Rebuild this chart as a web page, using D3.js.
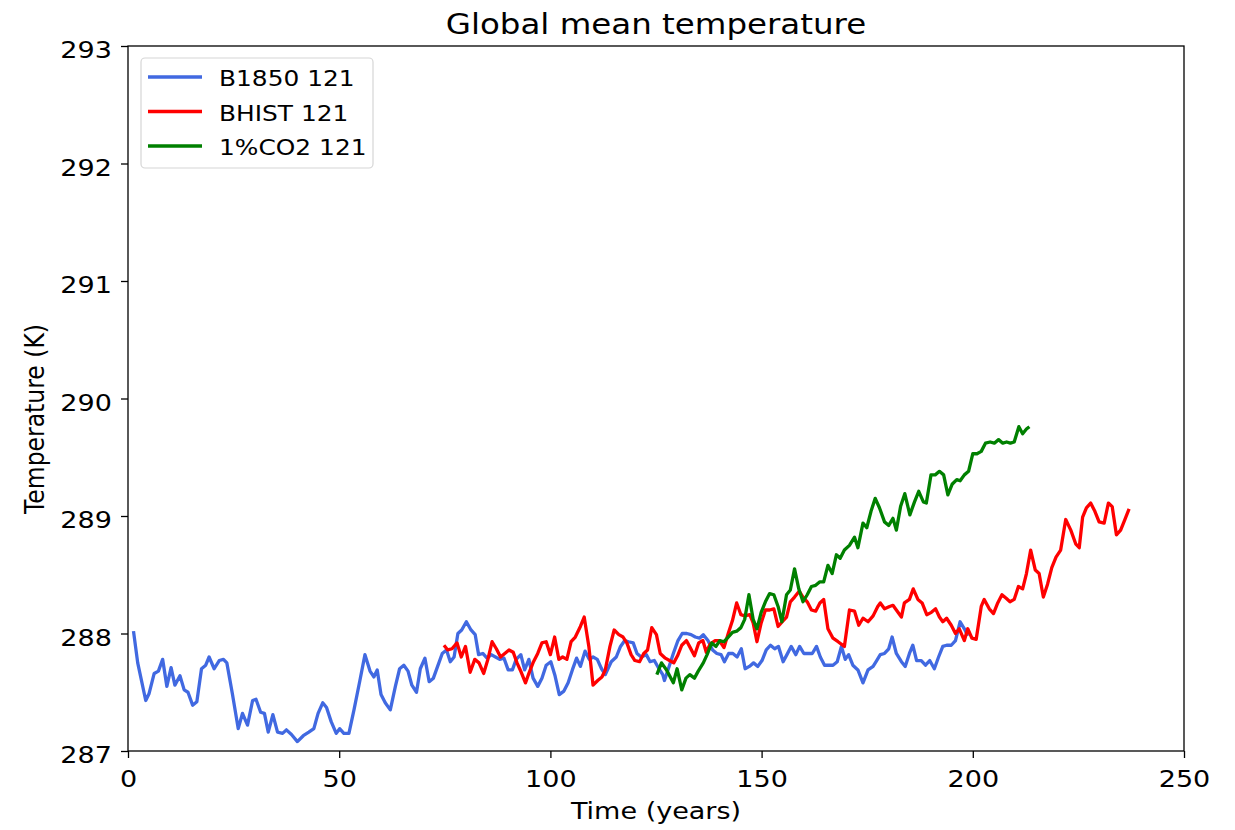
<!DOCTYPE html>
<html>
<head>
<meta charset="utf-8">
<script src="https://cdn.jsdelivr.net/npm/d3@7"></script>
<style>
  html, body { margin: 0; padding: 0; background: #fff; }
  text { font-family: "DejaVu Sans", sans-serif; fill: #000; }
</style>
</head>
<body>
<svg id="chart" width="1235" height="830"></svg>
<script>
// ---------------- DATA ----------------
const xTicks = [0, 50, 100, 150, 200, 250];
const yTicks = [287, 288, 289, 290, 291, 292, 293];
const seriesNames = ["B1850 121", "BHIST 121", "1%CO2 121"];

const b1850Years = [1.3,2.3,4.2,5.0,6.2,7.2,8.2,9.2,10.2,11.1,12.3,13.3,14.2,15.3,16.3,17.4,18.4,19.2,20.4,21.6,22.6,23.4,24.7,26.1,27.1,28.3,29.5,30.3,31.4,32.3,33.2,34.3,35.4,36.6,37.5,38.7,40.1,41.5,42.8,44.0,45.0,46.1,47.0,48.1,49.3,50.1,51.1,52.3,53.5,54.9,56.1,57.3,58.2,59.0,59.9,60.9,62.1,63.3,64.3,65.3,66.3,67.2,68.3,69.2,70.3,71.3,72.3,73.3,74.4,75.4,76.3,77.2,78.1,79.0,80.1,81.2,82.2,83.0,84,85,86,87,88,89,90,91,91.9,93,93.9,94.9,95.9,97,98,99,100.1,101.1,102.1,103.2,104.2,105.2,106.2,107.1,108.2,109.2,110.1,111.1,112.1,113.0,114.4,115.6,116.6,117.6,118.5,119.6,120.5,121.5,122.7,123.6,124.6,125.7,126.6,127.0,128.2,129.1,130.2,131.2,132.3,133.3,134.3,135.3,136.2,137.3,138.4,139.4,140.4,141.2,142.2,143.2,144.2,145.2,146.1,147.1,148.1,149.1,150.1,151.1,152.1,153.1,154.0,155.1,156.0,157.0,158.1,159.0,160.0,161.0,162.0,163.0,163.9,164.9,165.9,166.9,167.9,168.9,169.8,170.6,171.6,172.8,174.0,175.2,176.4,177.1,178.1,179.1,180.1,180.9,181.9,183.1,184.0,185.0,185.8,186.7,187.8,188.8,189.8,190.9,191.9,192.9,193.8,194.9,195.9,197.0,198.0,198.8];
const b1850Temp = [288.02,287.75,287.43,287.49,287.66,287.68,287.78,287.55,287.71,287.56,287.64,287.52,287.50,287.39,287.42,287.70,287.73,287.80,287.70,287.77,287.78,287.75,287.49,287.19,287.32,287.22,287.43,287.44,287.33,287.32,287.16,287.31,287.16,287.15,287.18,287.14,287.08,287.13,287.16,287.19,287.32,287.41,287.37,287.25,287.15,287.19,287.15,287.15,287.35,287.60,287.82,287.68,287.63,287.69,287.48,287.41,287.35,287.55,287.70,287.73,287.68,287.56,287.50,287.70,287.79,287.59,287.62,287.72,287.83,287.86,287.76,287.80,288.00,288.03,288.10,288.03,287.99,287.82,287.83,287.79,287.82,287.80,287.78,287.79,287.69,287.69,287.78,287.82,287.69,287.78,287.62,287.55,287.62,287.73,287.76,287.64,287.48,287.51,287.58,287.69,287.79,287.72,287.85,287.78,287.80,287.78,287.70,287.65,287.76,287.80,287.89,287.94,287.93,287.92,287.83,287.80,287.82,287.76,287.77,287.70,287.65,287.60,287.73,287.83,287.94,288.00,288.00,287.99,287.97,287.96,287.99,287.94,287.86,287.83,287.82,287.76,287.83,287.83,287.80,287.87,287.70,287.72,287.75,287.72,287.77,287.86,287.90,287.87,287.89,287.76,287.82,287.89,287.82,287.89,287.83,287.83,287.83,287.89,287.80,287.73,287.73,287.73,287.76,287.89,287.78,287.82,287.73,287.69,287.58,287.69,287.72,287.76,287.82,287.83,287.87,287.97,287.83,287.76,287.72,287.83,287.90,287.77,287.77,287.73,287.77,287.70,287.80,287.89,287.90,287.90,287.94,288.10,288.04,287.98];

const bhistYears = [74.8,75.7,76.7,77.9,78.9,79.9,81.0,82.1,83.1,84.2,85.2,86.2,87.2,88.2,89.2,90.2,91.2,92.1,93.1,94.1,95.0,96.0,97.0,98.0,99.0,100.0,101.0,102.0,102.9,103.9,104.9,105.9,107.1,108.0,109.1,110.1,111.2,112.2,113.0,114.1,115.1,116.2,117.2,118.1,119.1,120.0,121.1,122.1,123.0,124.0,125.1,126.0,127.2,128.2,129.2,130.1,131.1,132.2,133.1,134.1,135.1,136.1,136.9,137.8,139.0,140.0,141.1,142.1,143.1,144.1,145.1,146.0,147.2,148.0,148.9,149.9,150.9,151.9,152.9,153.9,154.9,155.9,156.8,157.8,158.9,159.8,160.8,161.8,162.8,163.8,164.7,165.7,166.9,168.1,169.6,170.8,172.0,173.0,174.0,175.2,176.4,177.5,178.1,179.1,180.3,181.1,181.9,183.1,183.8,185.0,185.9,187.0,188.0,189.1,190.2,191.2,192.1,192.9,193.8,194.9,195.9,196.8,198.0,198.8,199.8,200.8,202.0,202.7,203.9,204.9,205.9,206.9,207.9,208.8,209.8,210.8,211.8,212.7,213.7,214.8,215.7,216.7,217.7,218.7,219.7,220.8,222.0,223.2,224.4,225.2,226.0,226.9,227.9,228.9,229.9,231.1,232.1,233.0,234.0,235.0,236.0,237.0];
const bhistTemp = [287.90,287.86,287.87,287.92,287.80,287.89,287.67,287.78,287.75,287.66,287.78,287.93,287.87,287.80,287.83,287.86,287.84,287.75,287.67,287.58,287.67,287.76,287.83,287.92,287.93,287.82,287.97,287.78,287.80,287.78,287.93,287.97,288.06,288.14,287.89,287.56,287.60,287.63,287.69,287.89,288.03,287.99,287.97,287.92,287.82,287.77,287.76,287.83,287.86,288.05,287.99,287.83,287.79,287.77,287.75,287.81,287.90,287.94,287.88,287.81,287.92,287.94,287.84,287.91,287.94,287.94,287.88,288.00,288.11,288.26,288.16,288.15,288.16,288.09,287.93,288.09,288.20,288.20,288.21,288.06,288.10,288.14,288.27,288.31,288.36,288.31,288.27,288.20,288.19,288.26,288.29,288.04,287.96,287.93,287.89,288.20,288.19,288.07,288.13,288.10,288.15,288.23,288.26,288.21,288.23,288.24,288.20,288.14,288.26,288.29,288.38,288.29,288.26,288.16,288.18,288.21,288.14,288.10,288.13,288.07,288.00,288.04,287.94,288.04,287.96,287.95,288.23,288.29,288.21,288.17,288.26,288.33,288.30,288.27,288.29,288.40,288.38,288.51,288.71,288.54,288.51,288.31,288.42,288.56,288.65,288.71,288.97,288.88,288.76,288.73,288.99,289.07,289.11,289.04,288.95,288.94,289.11,289.08,288.84,288.88,288.97,289.06];

const co2Years = [125.2,126.3,127.5,129.1,130.0,131.1,132.1,133.0,134.1,135.0,136.2,137.1,138.2,139.2,140.1,141.1,142.1,143.1,144.1,145.1,146.0,147.0,148.0,148.9,149.9,150.9,151.9,152.9,153.9,154.8,155.9,156.8,157.8,158.8,159.8,160.8,161.8,162.8,163.8,164.7,165.7,166.7,167.7,168.6,169.6,170.8,172.0,172.8,174.0,174.9,175.9,176.9,177.9,179.1,180.1,181.1,181.9,182.9,183.9,185.1,186.2,187.2,188.3,189.0,190.1,191.1,192.1,193.1,194.1,195.1,196.2,197.0,198.0,199.0,200.0,201.0,202.0,203.0,204.1,205.1,206.1,207.1,208.0,208.9,209.8,210.9,211.8,212.7,213.4];
const co2Temp = [287.65,287.75,287.69,287.58,287.70,287.52,287.62,287.65,287.62,287.68,287.75,287.82,287.92,287.89,287.94,287.93,287.97,288.01,288.02,288.05,288.12,288.33,288.12,288.04,288.18,288.27,288.34,288.33,288.23,288.10,288.33,288.37,288.55,288.38,288.27,288.33,288.40,288.41,288.44,288.44,288.58,288.51,288.67,288.64,288.71,288.75,288.82,288.73,288.94,288.90,289.04,289.15,289.07,288.95,288.92,288.98,288.88,289.08,289.19,289.01,289.12,289.21,289.12,289.11,289.35,289.35,289.38,289.35,289.18,289.27,289.31,289.30,289.35,289.38,289.53,289.53,289.55,289.62,289.63,289.62,289.65,289.62,289.63,289.62,289.63,289.76,289.70,289.74,289.76];

const seriesColors = ["#4169E1", "#FF0000", "#008000"];

// ---------------- LAYOUT ----------------
const svg = d3.select("#chart");
const M = { left: 128, right: 1184, top: 46, bottom: 751 };
const SX = 1.15; // horizontal stretch of the reference image text

const x = d3.scaleLinear().domain([0, 250]).range([M.left, M.right]);
const y = d3.scaleLinear().domain([287, 293]).range([M.bottom, M.top]);

const series = [
  { name: seriesNames[0], years: b1850Years, temps: b1850Temp, color: seriesColors[0] },
  { name: seriesNames[1], years: bhistYears, temps: bhistTemp, color: seriesColors[1] },
  { name: seriesNames[2], years: co2Years, temps: co2Temp, color: seriesColors[2] }
];

const line = d3.line().x(d => x(d[0])).y(d => y(d[1]));

svg.append("defs").append("clipPath").attr("id", "clip")
  .append("rect").attr("x", M.left).attr("y", M.top)
  .attr("width", M.right - M.left).attr("height", M.bottom - M.top);

const plot = svg.append("g").attr("clip-path", "url(#clip)");
series.forEach(s => {
  const pts = s.years.map((yr, i) => [yr, s.temps[i]]);
  plot.append("path").datum(pts)
    .attr("d", line)
    .attr("fill", "none")
    .attr("stroke", s.color)
    .attr("stroke-width", 3.3)
    .attr("stroke-linejoin", "round")
    .attr("stroke-linecap", "butt");
});

// Axes
const xAxis = svg.append("g").attr("transform", `translate(0,${M.bottom})`)
  .call(d3.axisBottom(x).tickValues(xTicks).tickFormat(d3.format("d")).tickSize(7).tickSizeOuter(0));
xAxis.select(".domain").remove();
xAxis.selectAll("line").attr("stroke", "#000").attr("stroke-width", 1.3);
xAxis.selectAll("text")
  .attr("y", 36).attr("dy", 0)
  .attr("font-size", 23.5)
  .attr("font-family", "DejaVu Sans")
  .attr("fill", "#000")
  .attr("transform", `scale(${SX},1)`);

const yAxis = svg.append("g").attr("transform", `translate(${M.left},0)`)
  .call(d3.axisLeft(y).tickValues(yTicks).tickFormat(d3.format("d")).tickSize(7).tickSizeOuter(0).tickPadding(7));
yAxis.select(".domain").remove();
yAxis.selectAll("line").attr("stroke", "#000").attr("stroke-width", 1.3);
yAxis.selectAll("text")
  .attr("dy", 11.5)
  .attr("font-size", 23.5)
  .attr("font-family", "DejaVu Sans")
  .attr("fill", "#000")
  .attr("transform", `scale(${SX},1)`);

// Frame
svg.append("rect")
  .attr("x", M.left).attr("y", M.top)
  .attr("width", M.right - M.left).attr("height", M.bottom - M.top)
  .attr("fill", "none").attr("stroke", "#000").attr("stroke-width", 1.3);

// Title
svg.append("g").attr("transform", `translate(${(M.left + M.right) / 2},34) scale(1.16,1)`)
  .append("text").attr("text-anchor", "middle").attr("font-size", 28)
  .text("Global mean temperature");

// Axis labels
svg.append("g").attr("transform", `translate(${(M.left + M.right) / 2},819) scale(${SX},1)`)
  .append("text").attr("text-anchor", "middle").attr("font-size", 23.5)
  .text("Time (years)");

svg.append("g").attr("transform", `translate(44,419) scale(${SX},1) rotate(-90)`)
  .append("text").attr("text-anchor", "middle").attr("font-size", 23.5)
  .text("Temperature (K)");

// Legend
const lg = svg.append("g");
lg.append("rect")
  .attr("x", 141).attr("y", 58).attr("width", 232).attr("height", 110)
  .attr("rx", 4).attr("ry", 4)
  .attr("fill", "#fff").attr("fill-opacity", 0.8)
  .attr("stroke", "#d6d6d6").attr("stroke-width", 1.2);
series.forEach((s, i) => {
  const yy = 77 + i * 34.5;
  lg.append("line").attr("x1", 148).attr("x2", 202).attr("y1", yy).attr("y2", yy)
    .attr("stroke", s.color).attr("stroke-width", 3.3);
  lg.append("g").attr("transform", `translate(219,${yy + 9}) scale(1.13,1)`)
    .append("text").attr("font-size", 22).text(s.name);
});
</script>
</body>
</html>
